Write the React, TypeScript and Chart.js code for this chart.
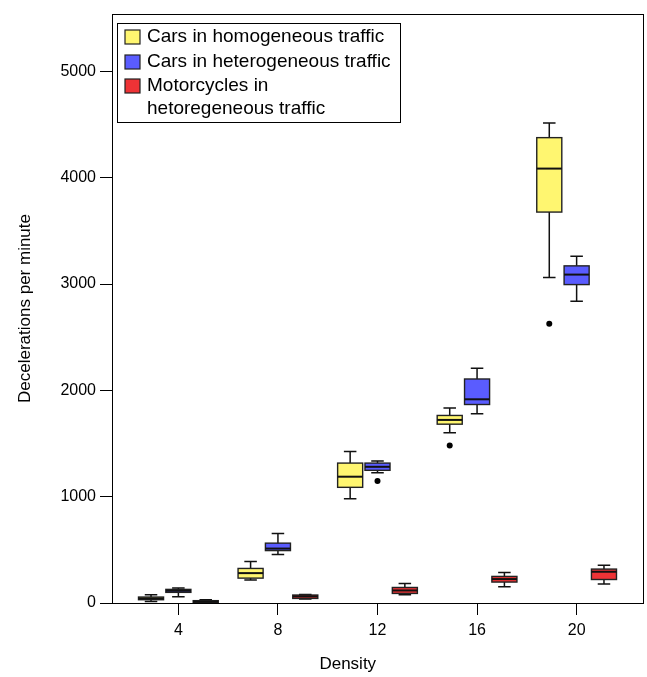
import React, { useEffect, useRef } from 'react';
import { Chart, registerables } from 'chart.js';
Chart.register(...registerables);

const densities = [4, 8, 12, 16, 20];
const xTicks = [4, 8, 12, 16, 20];
const yTicks = [0, 1000, 2000, 3000, 4000, 5000];
const seriesNames = ['Cars in homogeneous traffic', 'Cars in heterogeneous traffic', 'Motorcycles in|hetoregeneous traffic'];
const seriesColors = ['#FFF670', '#5A5CFF', '#EE3336'];

// Cars in homogeneous traffic
const homMin = [15, 216, 981, 1601, 3061];
const homQ1 = [31, 234, 1088, 1682, 3677];
const homMed = [43, 281, 1188, 1722, 4086];
const homQ3 = [56, 325, 1316, 1764, 4377];
const homMax = [78, 390, 1426, 1835, 4515];
const homOut = [[], [], [], [1482], [2627]];

// Cars in heterogeneous traffic
const hetMin = [59, 456, 1225, 1779, 2839];
const hetQ1 = [100, 493, 1248, 1867, 2995];
const hetMed = [115, 512, 1281, 1916, 3089];
const hetQ3 = [128, 563, 1316, 2107, 3171];
const hetMax = [141, 653, 1335, 2207, 3261];
const hetOut = [[], [], [1147], [], []];

// Motorcycles in heterogeneous traffic
const motoMin = [0, 38, 78, 153, 178];
const motoQ1 = [2, 43, 90, 197, 221];
const motoMed = [12, 62, 118, 225, 294];
const motoQ3 = [22, 75, 146, 250, 319];
const motoMax = [30, 81, 184, 287, 356];
const motoOut = [[], [], [], [], []];

const stats = [
  { min: homMin, q1: homQ1, med: homMed, q3: homQ3, max: homMax, out: homOut },
  { min: hetMin, q1: hetQ1, med: hetMed, q3: hetQ3, max: hetMax, out: hetOut },
  { min: motoMin, q1: motoQ1, med: motoMed, q3: motoQ3, max: motoMax, out: motoOut },
];

const FONT = "'Liberation Sans', Arial, Helvetica, sans-serif";

const boxPlugin = {
  id: 'boxExtras',
  afterDatasetsDraw(chart: any) {
    const ctx = chart.ctx;
    const ys = chart.scales.y;
    chart.data.datasets.forEach((_ds: any, di: number) => {
      const meta = chart.getDatasetMeta(di);
      const st = stats[di];
      meta.data.forEach((bar: any, i: number) => {
        const { x, width } = bar.getProps(['x', 'width'], true);
        const half = width / 2;
        const cap = width / 4;
        const pMin = ys.getPixelForValue(st.min[i]);
        const pQ1 = ys.getPixelForValue(st.q1[i]);
        const pMed = ys.getPixelForValue(st.med[i]);
        const pQ3 = ys.getPixelForValue(st.q3[i]);
        const pMax = ys.getPixelForValue(st.max[i]);
        ctx.save();
        ctx.strokeStyle = '#111';
        ctx.lineWidth = 1.5;
        ctx.beginPath();
        ctx.moveTo(x, pQ3); ctx.lineTo(x, pMax);
        ctx.moveTo(x - cap, pMax); ctx.lineTo(x + cap, pMax);
        ctx.moveTo(x, pQ1); ctx.lineTo(x, pMin);
        ctx.moveTo(x - cap, pMin); ctx.lineTo(x + cap, pMin);
        ctx.stroke();
        // box outline centred on the box edges
        ctx.strokeStyle = '#222';
        ctx.lineWidth = 1.4;
        ctx.strokeRect(x - half, pQ3, width, pQ1 - pQ3);
        ctx.strokeStyle = '#111';
        ctx.lineWidth = 2;
        ctx.beginPath();
        ctx.moveTo(x - half, pMed); ctx.lineTo(x + half, pMed);
        ctx.stroke();
        ctx.fillStyle = '#000';
        st.out[i].forEach((v: number) => {
          ctx.beginPath();
          ctx.arc(x, ys.getPixelForValue(v), 3, 0, Math.PI * 2);
          ctx.fill();
        });
        ctx.restore();
      });
    });
  },
  afterDraw(chart: any) {
    const ctx = chart.ctx;
    const a = chart.chartArea;
    ctx.save();
    // frame
    ctx.strokeStyle = '#000';
    ctx.lineWidth = 1;
    ctx.strokeRect(Math.round(a.left) + 0.5, Math.round(a.top) + 0.5, Math.round(a.right - a.left), Math.round(a.bottom - a.top));
    // legend
    const lx = a.left + 5, ly = a.top + 9, lw = 283, lh = 99;
    ctx.fillStyle = '#fff';
    ctx.fillRect(lx, ly, lw, lh);
    ctx.strokeRect(Math.round(lx) + 0.5, Math.round(ly) + 0.5, lw, lh);
    ctx.font = `19px ${FONT}`;
    ctx.textBaseline = 'middle';
    ctx.textAlign = 'left';
    const rowY = [ly + 14, ly + 39, ly + 63];
    seriesNames.forEach((name, k) => {
      const cy = rowY[k];
      ctx.fillStyle = seriesColors[k];
      ctx.fillRect(lx + 8, cy - 7, 15, 14);
      ctx.strokeStyle = '#222';
      ctx.lineWidth = 1.2;
      ctx.strokeRect(lx + 8, cy - 7, 15, 14);
      ctx.fillStyle = '#000';
      name.split('|').forEach((line, li) => {
        ctx.fillText(line, lx + 30, cy + li * 23);
      });
    });
    // x axis title
    ctx.font = `17px ${FONT}`;
    ctx.textAlign = 'center';
    ctx.fillStyle = '#000';
    ctx.fillText('Density', a.left + (a.right - a.left) * 0.444, 664);
    ctx.restore();
  },
};

export default function App() {
  const ref = useRef<HTMLCanvasElement>(null);
  useEffect(() => {
    if (!ref.current) return;
    const chart = new Chart(ref.current, {
      type: 'bar',
      data: {
        datasets: stats.map((st, k) => ({
          label: seriesNames[k].replace('|', ' '),
          data: densities.map((d, i) => ({ x: d, y: [st.q1[i], st.q3[i]] })),
          backgroundColor: seriesColors[k],
          borderWidth: 0,
          borderSkipped: false,
          inflateAmount: 0,
          categoryPercentage: 0.824,
          barPercentage: 0.916,
        })) as any,
      },
      options: {
        animation: false,
        responsive: false,
        layout: { padding: { left: 0, top: 14, right: 4, bottom: 0 } },
        plugins: { legend: { display: false }, tooltip: { enabled: false } },
        scales: {
          x: {
            type: 'linear',
            min: 4 - 8 / 3,
            max: 20 + 8 / 3,
            offset: false,
            grid: { display: true, drawOnChartArea: false, drawTicks: true, tickLength: 12, color: '#000', tickColor: '#000', offset: false },
            border: { display: true, color: '#000', width: 1 },
            ticks: { color: '#000', font: { size: 16, family: FONT }, padding: 6, callback: (v: any) => String(v) },
            afterBuildTicks: (s: any) => { s.ticks = xTicks.map((v) => ({ value: v })); },
            afterFit: (s: any) => { s.height = 74; },
          },
          y: {
            type: 'linear',
            min: 0,
            max: 5540,
            grid: { display: true, drawOnChartArea: false, drawTicks: true, tickLength: 12, color: '#000', tickColor: '#000' },
            border: { display: true, color: '#000', width: 1 },
            ticks: { color: '#000', font: { size: 16, family: FONT }, padding: 4, callback: (v: any) => String(v) },
            title: { display: true, text: 'Decelerations per minute', color: '#000', font: { size: 17, family: FONT }, padding: { top: 15, bottom: 0 } },
            afterBuildTicks: (s: any) => { s.ticks = yTicks.map((v) => ({ value: v })); },
            afterFit: (s: any) => { s.width = 112; },
          },
        },
      } as any,
      plugins: [boxPlugin],
    });
    return () => chart.destroy();
  }, []);
  return (
    <div style={{ position: 'absolute', left: 0, top: 0, width: 647, height: 677, background: '#fff' }}>
      <canvas ref={ref} width={647} height={677} style={{ display: 'block' }} />
    </div>
  );
}
